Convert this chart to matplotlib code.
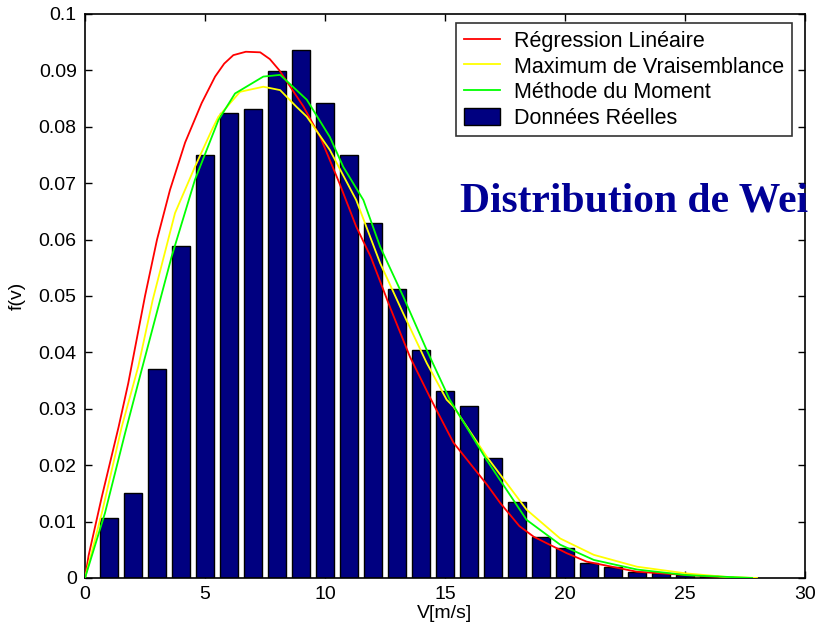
import numpy as np
import matplotlib
matplotlib.use("Agg")
import matplotlib.pyplot as plt

# Data
# ======================================================
# histogram of measured wind speeds (bin centres in m/s, density)
speed_bins = list(range(1, 27))
density = [0.0107, 0.0151, 0.0370, 0.0589, 0.0750, 0.0825, 0.0831, 0.0899,
           0.0937, 0.0842, 0.0750, 0.0629, 0.0512, 0.0405, 0.0332, 0.0305,
           0.0213, 0.0134, 0.0073, 0.0054, 0.0026, 0.0020, 0.0011, 0.0009,
           0.0005, 0.0003]

# Weibull fits, points picked along each curve
reg_v = [0, 0.15, 0.7, 1.4, 1.8, 2.5, 3.0, 3.54, 4.17, 4.86, 5.42, 5.8, 6.18,
         6.7, 7.3, 7.7, 8.1, 9.1, 9.8, 10.6, 11.3, 11.9, 12.7, 13.54, 14.4,
         15.35, 16.74, 17.3, 18.1, 18.7, 20.07, 20.9, 23.0, 25.9, 27.0]
reg_f = [0, 0.004, 0.0144, 0.0268, 0.0345, 0.050, 0.0600, 0.0688, 0.0772,
         0.0842, 0.0889, 0.0912, 0.0927, 0.0933, 0.0932, 0.0920, 0.0900,
         0.0836, 0.0782, 0.070, 0.0623, 0.057, 0.0481, 0.0392, 0.0318,
         0.0240, 0.0166, 0.0133, 0.0092, 0.0073, 0.0044, 0.0029,
         0.0011, 0.0003, 0.0001]

mv_v = [0, 0.7, 1.53, 2.22, 2.82, 3.75, 4.58, 5.28, 5.56, 6.46, 7.43, 8.13,
        8.82, 9.24, 10.2, 11.3, 12.3, 13.26, 14.24, 15.07, 15.35, 16.74,
        18.4, 19.8, 21.2, 23.0, 25.07, 26.7, 28.0]
mv_f = [0, 0.0115, 0.0268, 0.0375, 0.0493, 0.0647, 0.0729, 0.0794, 0.0818,
        0.0862, 0.0871, 0.0865, 0.0835, 0.0818, 0.0759, 0.067, 0.0558,
        0.0469, 0.0381, 0.0316, 0.0304, 0.0215, 0.0121, 0.0070, 0.0041,
        0.0020, 0.0008, 0.0002, 0.0]

mom_v = [0, 0.83, 1.67, 2.36, 3.13, 3.61, 4.58, 5.56, 6.25, 7.43, 8.13, 9.24,
         10.2, 10.76, 11.6, 12.3, 13.26, 14.24, 15.2, 16.74, 18.4, 19.8,
         21.2, 23.0, 25.07, 27.8]
mom_f = [0, 0.0115, 0.0257, 0.0369, 0.0493, 0.057, 0.0706, 0.0812, 0.0859,
         0.0889, 0.0892, 0.0848, 0.0782, 0.0729, 0.067, 0.0587, 0.0499,
         0.0404, 0.0316, 0.0209, 0.0103, 0.0059, 0.0032, 0.0015, 0.0005, 0.0]

labels = ["Régression Linéaire", "Maximum de Vraisemblance",
          "Méthode du Moment", "Données Réelles"]

# ========== Plot ==========
plt.rcParams['font.family'] = ['Liberation Sans', 'DejaVu Sans']

fig = plt.figure(figsize=(8.16, 6.35), dpi=100)
ax = fig.add_axes([0.1042, 0.0898, 0.8823, 0.8882])

bars = ax.bar(speed_bins, density, width=0.75, color='#000080',
              edgecolor='black', linewidth=1.0, zorder=2)
l1, = ax.plot(reg_v, reg_f, color='#ff0000', lw=1.3, zorder=3)
l2, = ax.plot(mv_v, mv_f, color='#ffff00', lw=1.3, zorder=3)
l3, = ax.plot(mom_v, mom_f, color='#00ff00', lw=1.3, zorder=3)

ax.set_xlim(0, 30)
ax.set_ylim(0, 0.1)
ax.set_xticks(np.arange(0, 31, 5))
ax.set_yticks(np.arange(0, 0.101, 0.01))
ax.set_yticklabels(["0", "0.01", "0.02", "0.03", "0.04", "0.05", "0.06",
                    "0.07", "0.08", "0.09", "0.1"])
ax.tick_params(direction='in', length=5, width=1.0, top=True, right=True,
               labelsize=14, pad=6)
for s in ax.spines.values():
    s.set_linewidth(1.2)

ax.set_xlabel("V[m/s]", fontsize=14, labelpad=1)
ax.set_ylabel("f(v)", fontsize=14, labelpad=9)

leg = ax.legend([l1, l2, l3, bars], labels, loc='upper right',
                bbox_to_anchor=(0.982, 0.984), borderaxespad=0,
                fontsize=15.5, frameon=True, fancybox=False, shadow=False,
                handlelength=1.7, handleheight=0.9, handletextpad=0.65,
                labelspacing=0.2, borderpad=0.35)
leg.get_frame().set_edgecolor('black')
leg.get_frame().set_linewidth(1.2)

fig.text(460 / 816, 1 - 212 / 635, "Distribution de Wei", fontsize=30,
         family='Liberation Serif', fontweight='bold', color='#000096',
         va='baseline', ha='left')

fig.savefig('out.png', dpi=100)
plt.close()
